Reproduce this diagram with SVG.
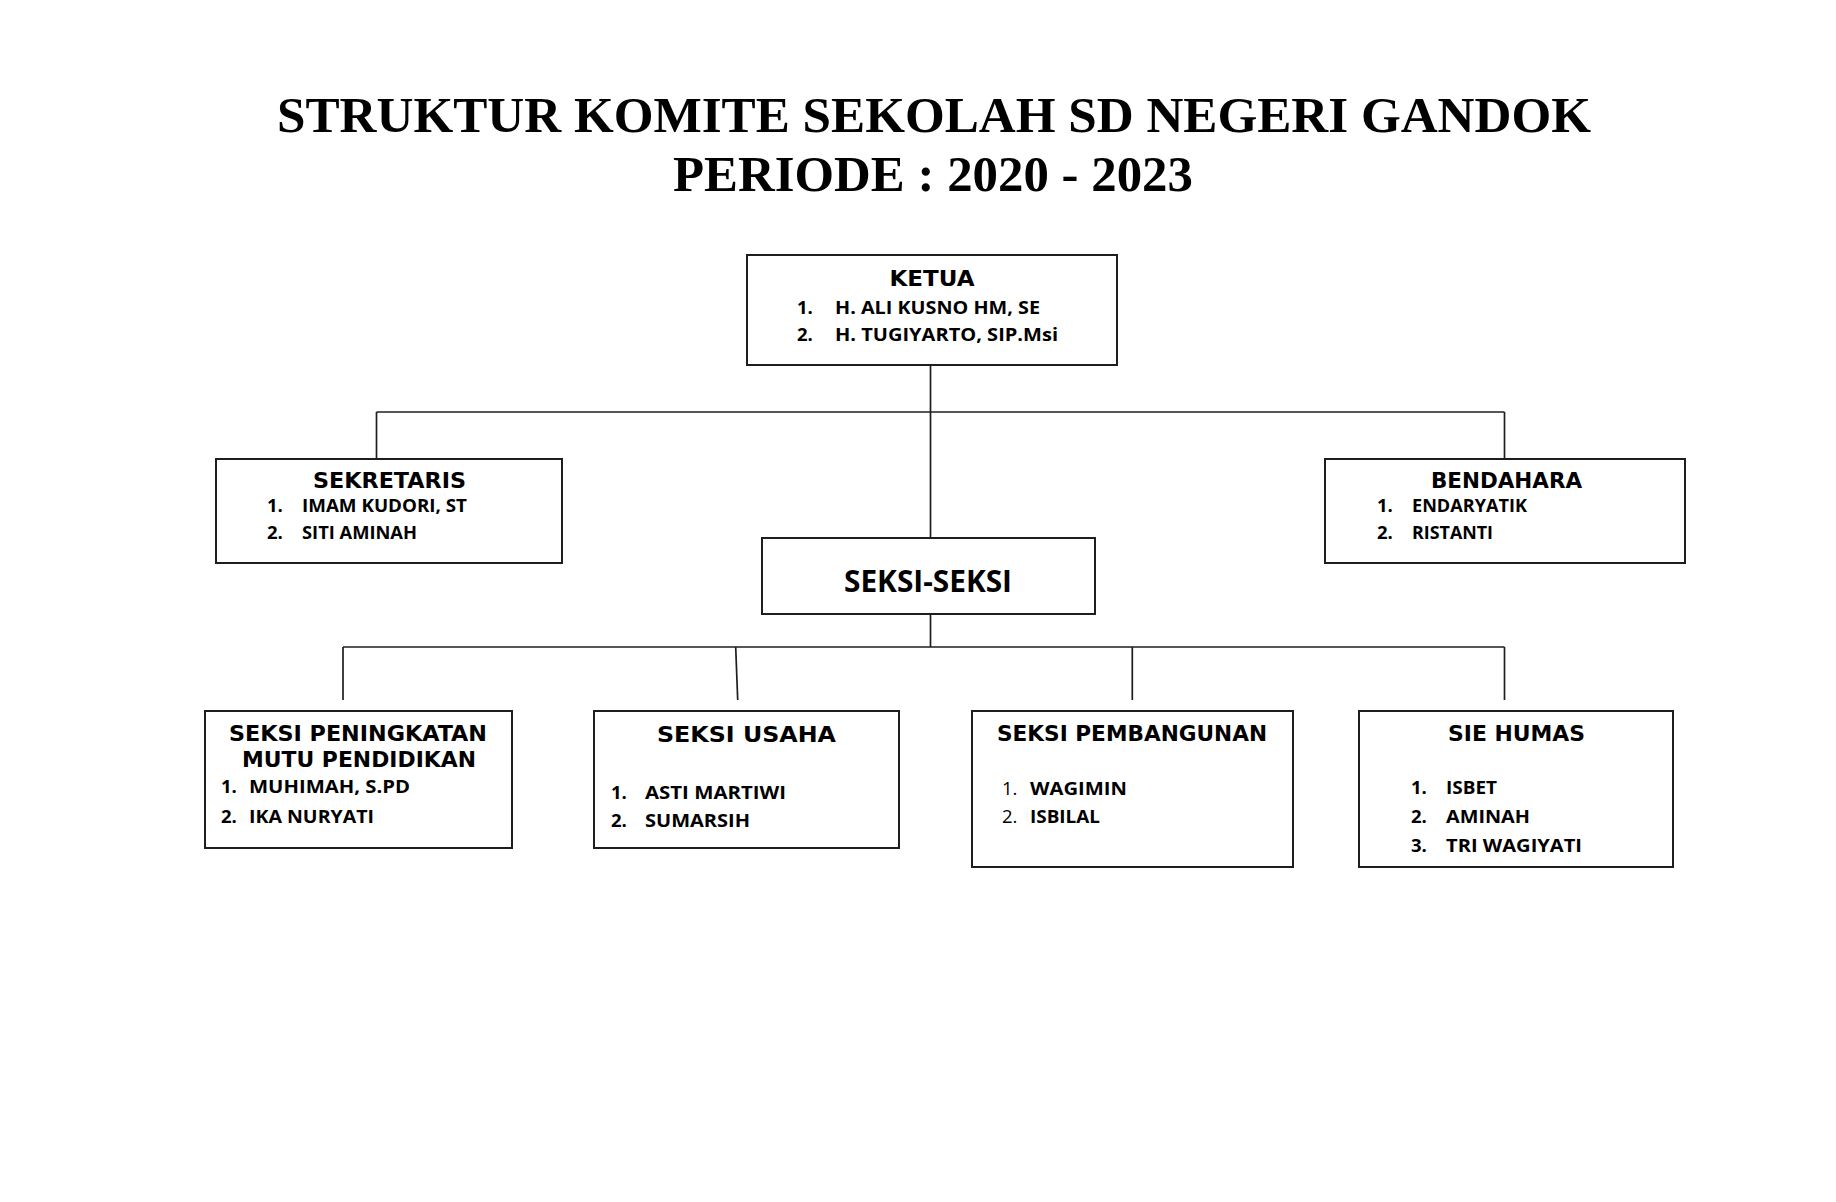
<svg xmlns="http://www.w3.org/2000/svg" width="1836" height="1202" viewBox="0 0 1836 1202">
<style>
.bg{fill:#ffffff}
.box{fill:#ffffff;stroke:#1e1e1e;stroke-width:2}
.ln{fill:none;stroke:#1e1e1e;stroke-width:1.7}
.title{font-family:"Liberation Serif","Times New Roman",serif;font-weight:bold;font-size:51px;fill:#000}
.hd{font-family:"DejaVu Sans",Verdana,sans-serif;font-weight:bold;font-size:21px;fill:#000}
.it{font-family:"Open Sans","Liberation Sans",sans-serif;font-weight:bold;font-size:18.5px;fill:#000}
.itr{font-family:"Open Sans","Liberation Sans",sans-serif;font-weight:normal;font-size:18.5px;fill:#000}
.big{font-family:"Open Sans","Liberation Sans",sans-serif;font-weight:bold;font-size:31px;fill:#000}
</style>
<rect class="bg" x="0" y="0" width="1836" height="1202"/>
<g id="title">
<text class="title" x="277" y="132" textLength="1314" lengthAdjust="spacingAndGlyphs">STRUKTUR KOMITE SEKOLAH SD NEGERI GANDOK</text>
<text class="title" x="673" y="191" textLength="520" lengthAdjust="spacingAndGlyphs">PERIODE : 2020 - 2023</text>
</g>
<g id="connectors">
<line class="ln" x1="930.5" y1="365" x2="930.5" y2="538"/>
<line class="ln" x1="376.5" y1="412" x2="1504.5" y2="412"/>
<line class="ln" x1="376.5" y1="412" x2="376.5" y2="459"/>
<line class="ln" x1="1504.5" y1="412" x2="1504.5" y2="459"/>
<line class="ln" x1="930.5" y1="614" x2="930.5" y2="647"/>
<line class="ln" x1="343" y1="647" x2="1504.5" y2="647"/>
<line class="ln" x1="343" y1="647" x2="343" y2="700"/>
<line class="ln" x1="735.7" y1="647" x2="737.7" y2="700"/>
<line class="ln" x1="1132.3" y1="647" x2="1132.3" y2="700"/>
<line class="ln" x1="1504.5" y1="647" x2="1504.5" y2="700"/>
</g>
<g id="ketua">
<rect class="box" x="747" y="255" width="370" height="110"/>
<text class="hd" x="889.5" y="286" textLength="85" lengthAdjust="spacingAndGlyphs">KETUA</text>
<text class="it" x="797" y="314">1.</text>
<text class="it" x="835" y="314" textLength="205" lengthAdjust="spacingAndGlyphs">H. ALI KUSNO HM, SE</text>
<text class="it" x="797" y="341">2.</text>
<text class="it" x="835" y="341" textLength="223" lengthAdjust="spacingAndGlyphs">H. TUGIYARTO, SIP.Msi</text>
</g>
<g id="sekretaris">
<rect class="box" x="216" y="459" width="346" height="104"/>
<text class="hd" x="313" y="488" textLength="153" lengthAdjust="spacingAndGlyphs">SEKRETARIS</text>
<text class="it" x="267" y="512">1.</text>
<text class="it" x="302" y="512" textLength="165" lengthAdjust="spacingAndGlyphs">IMAM KUDORI, ST</text>
<text class="it" x="267" y="539">2.</text>
<text class="it" x="302" y="539" textLength="115" lengthAdjust="spacingAndGlyphs">SITI AMINAH</text>
</g>
<g id="bendahara">
<rect class="box" x="1325" y="459" width="360" height="104"/>
<text class="hd" x="1431" y="488" textLength="151" lengthAdjust="spacingAndGlyphs">BENDAHARA</text>
<text class="it" x="1377" y="512">1.</text>
<text class="it" x="1412" y="512" textLength="115" lengthAdjust="spacingAndGlyphs">ENDARYATIK</text>
<text class="it" x="1377" y="539">2.</text>
<text class="it" x="1412" y="539" textLength="81" lengthAdjust="spacingAndGlyphs">RISTANTI</text>
</g>
<g id="seksi-seksi">
<rect class="box" x="762" y="538" width="333" height="76"/>
<text class="big" x="844" y="592" textLength="168" lengthAdjust="spacingAndGlyphs">SEKSI-SEKSI</text>
</g>
<g id="seksi-peningkatan">
<rect class="box" x="205" y="711" width="307" height="137"/>
<text class="hd" x="229" y="741" textLength="258" lengthAdjust="spacingAndGlyphs">SEKSI PENINGKATAN</text>
<text class="hd" x="242" y="767" textLength="234" lengthAdjust="spacingAndGlyphs">MUTU PENDIDIKAN</text>
<text class="it" x="221" y="793">1.</text>
<text class="it" x="249" y="793" textLength="161" lengthAdjust="spacingAndGlyphs">MUHIMAH, S.PD</text>
<text class="it" x="221" y="823">2.</text>
<text class="it" x="249" y="823" textLength="125" lengthAdjust="spacingAndGlyphs">IKA NURYATI</text>
</g>
<g id="seksi-usaha">
<rect class="box" x="594" y="711" width="305" height="137"/>
<text class="hd" x="657" y="742" textLength="179" lengthAdjust="spacingAndGlyphs">SEKSI USAHA</text>
<text class="it" x="611" y="799">1.</text>
<text class="it" x="645" y="799" textLength="141" lengthAdjust="spacingAndGlyphs">ASTI MARTIWI</text>
<text class="it" x="611" y="827">2.</text>
<text class="it" x="645" y="827" textLength="105" lengthAdjust="spacingAndGlyphs">SUMARSIH</text>
</g>
<g id="seksi-pembangunan">
<rect class="box" x="972" y="711" width="321" height="156"/>
<text class="hd" x="997" y="741" textLength="270" lengthAdjust="spacingAndGlyphs">SEKSI PEMBANGUNAN</text>
<text class="itr" x="1002" y="795">1.</text>
<text class="it" x="1030" y="795" textLength="97" lengthAdjust="spacingAndGlyphs">WAGIMIN</text>
<text class="itr" x="1002" y="823">2.</text>
<text class="it" x="1030" y="823" textLength="70" lengthAdjust="spacingAndGlyphs">ISBILAL</text>
</g>
<g id="sie-humas">
<rect class="box" x="1359" y="711" width="314" height="156"/>
<text class="hd" x="1448" y="741" textLength="137" lengthAdjust="spacingAndGlyphs">SIE HUMAS</text>
<text class="it" x="1411" y="794">1.</text>
<text class="it" x="1446" y="794" textLength="51" lengthAdjust="spacingAndGlyphs">ISBET</text>
<text class="it" x="1411" y="823">2.</text>
<text class="it" x="1446" y="823" textLength="84" lengthAdjust="spacingAndGlyphs">AMINAH</text>
<text class="it" x="1411" y="852">3.</text>
<text class="it" x="1446" y="852" textLength="136" lengthAdjust="spacingAndGlyphs">TRI WAGIYATI</text>
</g>
</svg>
